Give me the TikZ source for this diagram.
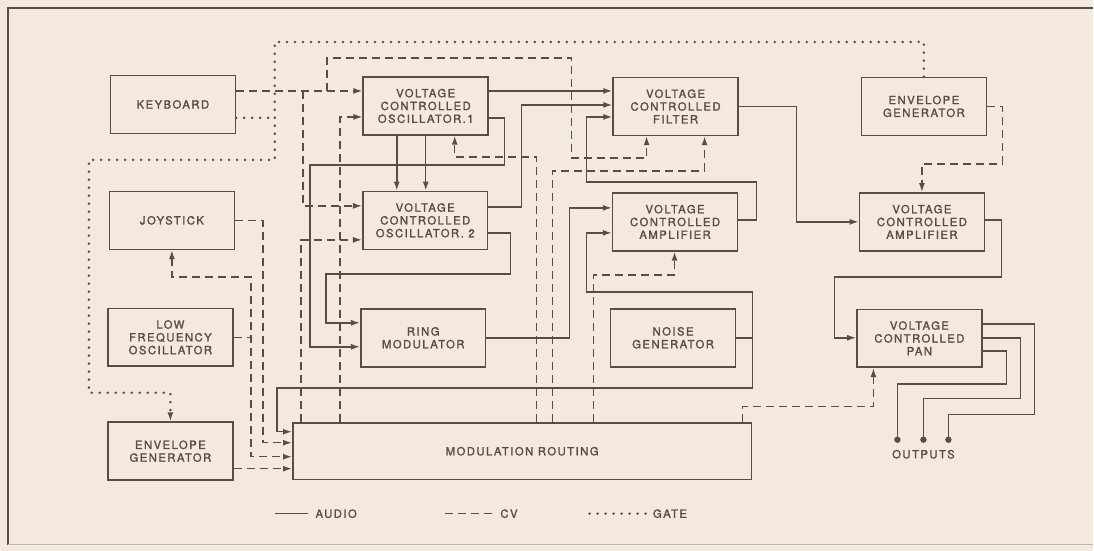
\documentclass[tikz,border=0pt]{standalone}
\usepackage{fontspec}
\newfontfamily\lblfont{TeX Gyre Heros}[LetterSpace=13,FakeBold=1.6]
\usetikzlibrary{arrows.meta,positioning}
\definecolor{paper}{RGB}{243,233,223}
\definecolor{ink}{RGB}{88,78,72}
\newcommand\lblsize{\lblfont\fontsize{11.3}{12.8}\selectfont}
\tikzset{
  blk/.style={draw=ink, line width=1.6pt, rectangle, minimum width=125pt, minimum height=58pt, align=center, inner sep=0pt, font=\lblsize, text=ink},
  lbl/.style={font=\lblsize, text=ink, inner sep=0pt},
  audio/.style={draw=ink, line width=1.5pt},
  cv/.style={draw=ink, line width=1.5pt, dash pattern=on 8pt off 5pt},
  gate/.style={draw=ink, line width=2.8pt, line cap=round, dash pattern=on 0pt off 8pt},
  >={Latex[length=9pt,width=6pt]}
}

\begin{document}
\begin{tikzpicture}[x=1pt,y=-1pt]
                \fill[paper] (0,0) rectangle (1094,551);
                \draw[ink, line width=1.4pt] (1094,8) -- (8,8) -- (8,545);
                \draw[ink!40, line width=1pt] (8,545) -- (1094,545);

                \node[blk] (kbd) at (173,104.5) {KEYBOARD};
                \node[blk] (joy) at (172,220.5) {JOYSTICK};
                \node[blk] (lfo) at (170.5,337.5) {LOW\\FREQUENCY\\OSCILLATOR};
                \node[blk] (envl) at (170.5,451.5) {ENVELOPE\\GENERATOR};
                \node[blk] (vco1) at (426,106) {VOLTAGE\\CONTROLLED\\OSCILLATOR.1};
                \node[blk] (vco2) at (425.5,220.5) {VOLTAGE\\CONTROLLED\\OSCILLATOR. 2};
                \node[blk] (ring) at (423.5,338) {RING\\MODULATOR};
                \node[blk] (vcf) at (676,106.5) {VOLTAGE\\CONTROLLED\\FILTER};
                \node[blk] (vca1) at (675.5,222) {VOLTAGE\\CONTROLLED\\AMPLIFIER};
                \node[blk] (noise) at (673.5,338) {NOISE\\GENERATOR};
                \node[blk] (envr) at (924.5,106.5) {ENVELOPE\\GENERATOR};
                \node[blk] (vca2) at (922.5,222) {VOLTAGE\\CONTROLLED\\AMPLIFIER};
                \node[blk] (pan) at (920,338.5) {VOLTAGE\\CONTROLLED\\PAN};
                \node[blk, minimum width=459pt, minimum height=57pt] (route) at (522.5,451.5) {MODULATION ROUTING};

                \coordinate (out1) at (898,440);
                \coordinate (out2) at (924,440);
                \coordinate (out3) at (949,440);

                \draw[gate] (kbd.east |- 0,118) -- (275,118);
                \draw[gate,->] (envr.north) |- (275,42) -- (275,160) -| (89,393) -| (envl.north);

                \draw[cv,->] (kbd.east |- 0,91) -- (vco1.west |- 0,91);
                \draw[cv,->] (303,91) |- (vco2.west |- 0,206);
                \draw[cv,->] (327,91) |- (572,58) |- (647,158) -- (647,0 |- vcf.south);
                \draw[cv,->] (340,0 |- route.north) |- (vco1.west |- 0,117);
                \draw[cv,->] (301,0 |- route.north) |- (vco2.west |- 0,240);
                \draw[cv,->] (537,0 |- route.north) |- (455,157) -- (455,0 |- vco1.south);
                \draw[cv,->] (553,0 |- route.north) |- (705,171) -- (705,0 |- vcf.south);
                \draw[cv,->] (594,0 |- route.north) |- (675,275) -- (675,0 |- vca1.south);
                \draw[cv,->] (743,0 |- route.north) |- (874,407) -- (874,0 |- pan.south);
                \draw[cv,->] (joy.east) -| (263,443) -- (route.west |- 0,443);
                \draw[cv,<->] (172,0 |- joy.south) |- (251,277) |- (route.west |- 0,457);
                \draw[cv] (lfo.east) -- (251,0 |- lfo.east);
                \draw[cv,->] (envl.east |- 0,469) -- (route.west |- 0,469);
                \draw[cv,->] (envr.east) -| (1003,164) -| (vca2.north);

                \draw[audio,->] (vco1.east |- 0,91) -- (vcf.west |- 0,91);
                \draw[audio,->] (vco1.east |- 0,118) -| (505,165) -| (310,347) -- (ring.west |- 0,347);
                \draw[audio,->] (397,0 |- vco1.south) -- (397,0 |- vco2.north);
                \draw[audio,->] (426,0 |- vco1.south) -- (426,0 |- vco2.north);
                \draw[audio,->] (vco2.east |- 0,207) -| (522,105) -- (vcf.west |- 0,105);
                \draw[audio,->] (vco2.east |- 0,233) -| (511,274) -| (326,323) -- (ring.west |- 0,323);
                \draw[audio,->] (ring.east) -| (570,208) -- (vca1.west |- 0,208);
                \draw[audio,->] (vca1.east |- 0,220) -| (757,182) -| (587,117) -- (vcf.west |- 0,117);
                \draw[audio,->] (noise.east) -| (753,292) -| (587,233) -- (vca1.west |- 0,233);
                \draw[audio,->] (753,0 |- noise.east) |- (277,388) |- (route.west |- 0,432);
                \draw[audio,->] (vcf.east) -| (797,222) -- (vca2.west |- 0,222);
                \draw[audio,->] (vca2.east |- 0,220) -| (1002,277) -| (835,338) -- (pan.west |- 0,338);
                \draw[audio] (pan.east |- 0,324) -| (1035,415) -| (out3);
                \draw[audio] (pan.east |- 0,338) -| (1021,399) -| (out2);
                \draw[audio] (pan.east |- 0,351) -| (1007,384) -| (out1);
                \fill[ink] (out1) circle (3.2pt) (out2) circle (3.2pt) (out3) circle (3.2pt);
                \node[lbl, below=10pt of out2] (outs) {OUTPUTS};

                \draw[audio] (275,514) -- (308,514) node[lbl, right=7pt] (keyaudio) {AUDIO};
                \draw[cv] (445,514) -- (495,514) node[lbl, right=5pt] (keycv) {CV};
                \draw[gate] (590,514) -- (647,514) node[lbl, right=5pt] (keygate) {GATE};
\end{tikzpicture}
\end{document}
